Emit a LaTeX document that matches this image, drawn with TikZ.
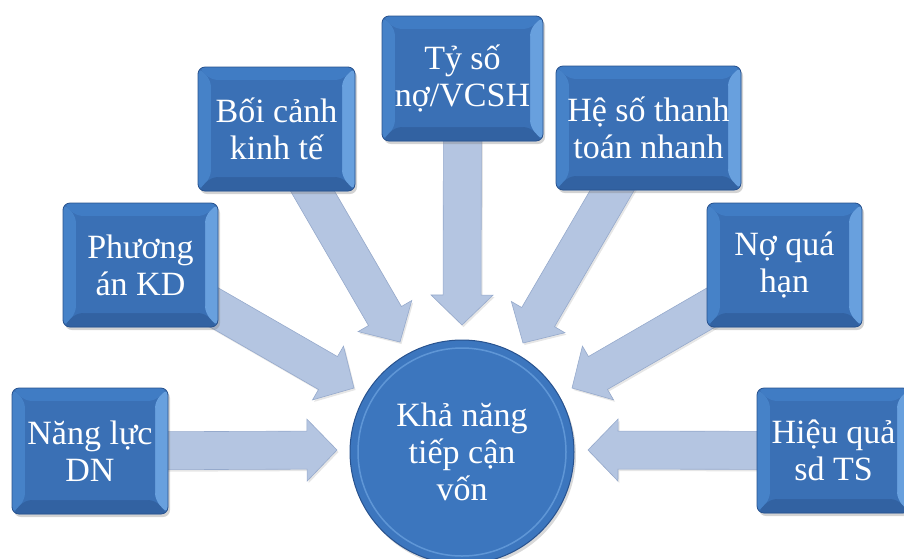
\documentclass[tikz,border=0pt]{standalone}
\usepackage{fontspec}
\setmainfont{Liberation Serif}
\usetikzlibrary{calc,shadows,backgrounds}
\definecolor{faceblue}{RGB}{58,112,181}
\definecolor{bevtop}{RGB}{64,124,196}
\definecolor{bevleft}{RGB}{70,130,200}
\definecolor{bevright}{RGB}{104,160,222}
\definecolor{bevbot}{RGB}{50,98,162}
\definecolor{edgeblue}{RGB}{40,82,142}
\definecolor{arrfill}{RGB}{180,197,225}
\definecolor{arredge}{RGB}{150,170,204}
\definecolor{circblue}{RGB}{60,118,190}
\definecolor{circring}{RGB}{110,165,225}
\newcommand\blkarrow[2]{%
  \coordinate (ab) at ($(#2)!30pt!(#1.center)$);
  \filldraw[arrowshape] ($(#1.center)!19pt!90:(#2)$) -- ($(ab)!19pt!-90:(#1.center)$)
    -- ($(ab)!31pt!-90:(#1.center)$) -- (#2) -- ($(ab)!31pt!90:(#1.center)$)
    -- ($(ab)!19pt!90:(#1.center)$) -- ($(#1.center)!19pt!-90:(#2)$) -- cycle;
}
\tikzset{
  bevelbox/.style={rectangle, rounded corners=7pt, fill=faceblue, draw=edgeblue, line width=0.8pt,
    text=white, align=center, inner sep=0pt,
    font=\fontsize{34}{37}\selectfont,
    drop shadow={opacity=0.35, shadow xshift=2pt, shadow yshift=-3pt},
    path picture={
      \coordinate (nw) at (path picture bounding box.north west);
      \coordinate (ne) at (path picture bounding box.north east);
      \coordinate (sw) at (path picture bounding box.south west);
      \coordinate (se) at (path picture bounding box.south east);
      \coordinate (inw) at ([xshift=13pt,yshift=-13pt]nw);
      \coordinate (ine) at ([xshift=-13pt,yshift=-13pt]ne);
      \coordinate (isw) at ([xshift=13pt,yshift=14pt]sw);
      \coordinate (ise) at ([xshift=-13pt,yshift=14pt]se);
      \fill[bevtop] (nw) -- (ne) -- (ine) -- (inw) -- cycle;
      \fill[bevleft] (nw) -- (inw) -- (isw) -- (sw) -- cycle;
      \fill[bevbot] (sw) -- (isw) -- (ise) -- (se) -- cycle;
      \fill[bevright] (ne) -- (se) -- (ise) -- (ine) -- cycle;
      \fill[faceblue] (inw) rectangle (ise);
    }},
  hub/.style={circle, fill=circblue, draw=edgeblue, line width=1pt, text=white, align=center,
    inner sep=0pt, minimum size=224pt, font=\fontsize{34}{37}\selectfont,
    drop shadow={opacity=0.3, shadow xshift=2pt, shadow yshift=-3pt}},
  arrowshape/.style={fill=arrfill, draw=arredge, line width=0.6pt, line join=miter,
    drop shadow={opacity=0.2, shadow xshift=1.5pt, shadow yshift=-2pt}}
}
\begin{document}
\begin{tikzpicture}[x=1pt,y=-1pt]
\useasboundingbox (0,0) rectangle (904,558);
\clip (0,0) rectangle (904,558);
\node[bevelbox, minimum width=156pt, minimum height=126pt] (nang) at (90,451) {Năng lực\\DN};
\node[bevelbox, minimum width=155pt, minimum height=124pt] (phuong) at (140.5,265) {Phương\\án KD};
\node[bevelbox, minimum width=157pt, minimum height=124pt] (boi) at (276.5,129) {Bối cảnh\\kinh tế};
\node[bevelbox, minimum width=161pt, minimum height=125pt] (tyso) at (462.5,78.5) {Tỷ số\\nợ/VCSH};
\node[bevelbox, minimum width=185pt, minimum height=124pt] (heso) at (648.5,128) {Hệ số thanh\\toán nhanh};
\node[bevelbox, minimum width=155pt, minimum height=124pt] (no) at (784.5,265) {Nợ quá\\hạn};
\node[bevelbox, minimum width=153pt, minimum height=125pt] (hieu) at (833.5,450.5) {Hiệu quả\\sd TS};
\node[hub] (hub) at (462,452) {Khả năng\\tiếp cận\\vốn};
\path[draw=circring, line width=1.5pt, opacity=0.7] (hub.center) circle (104pt);
\coordinate (t1) at (337,450);
\coordinate (t2) at (354,388);
\coordinate (t3) at (400,342);
\coordinate (t4) at (462,325);
\coordinate (t5) at (523,343);
\coordinate (t6) at (572,388);
\coordinate (t7) at (588,450);
\begin{pgfonlayer}{background}
\blkarrow{nang}{t1}
\blkarrow{phuong}{t2}
\blkarrow{boi}{t3}
\blkarrow{tyso}{t4}
\blkarrow{heso}{t5}
\blkarrow{no}{t6}
\blkarrow{hieu}{t7}
\end{pgfonlayer}
\end{tikzpicture}
\end{document}
